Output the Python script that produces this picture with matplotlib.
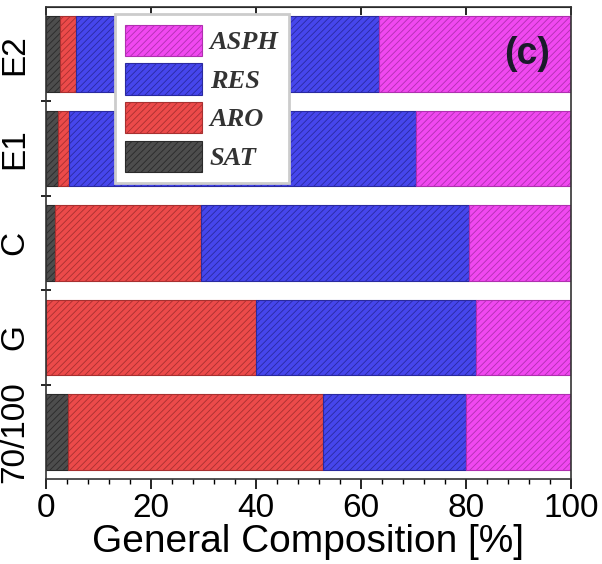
import matplotlib
matplotlib.use("Agg")
import matplotlib.pyplot as plt
import numpy as np
from matplotlib.ticker import MultipleLocator, FixedLocator

# 样品与四组分 (SAT / ARO / RES / ASPH), 单位 %
samples = ['70/100', 'G', 'C', 'E1', 'E2']
sat = [4.2, 0.0, 1.7, 2.3, 2.7]
aro = [48.5, 40.0, 27.9, 2.1, 3.1]
res = [27.3, 41.9, 51.0, 66.1, 57.7]
asph = [20.0, 18.1, 19.4, 29.5, 36.5]

names = ['SAT', 'ARO', 'RES', 'ASPH']
faces = ['#4d4d4d', '#ec4a4a', '#4646ec', '#f048f0']
edges = ['#2a2a2a', '#a83030', '#2a2aa0', '#b030b0']

plt.rcParams['hatch.linewidth'] = 0.6

fig = plt.figure(figsize=(6.02, 5.64), dpi=100)
ax = fig.add_axes([46 / 602, 85 / 564, 525 / 602, 472 / 564])

y = np.arange(len(samples))
left = np.zeros(len(samples))
handles = []
for vals, name, fc, ec in zip([sat, aro, res, asph], names, faces, edges):
    b = ax.barh(y, vals, left=left, height=0.8, color=fc, edgecolor=ec,
                hatch='/////', linewidth=0.8, label=name)
    handles.append(b)
    left = left + np.array(vals)

ax.set_xlim(0, 100)
ax.set_ylim(-0.5, len(samples) - 0.5)

# x 轴刻度
ax.xaxis.set_major_locator(MultipleLocator(20))
ax.xaxis.set_minor_locator(MultipleLocator(4))
ax.tick_params(axis='x', which='major', direction='out', length=7, width=1.2,
               labelsize=24, pad=3)
ax.tick_params(axis='x', which='minor', direction='out', length=3.5, width=1.0)
for lab in ax.get_xticklabels():
    lab.set_fontfamily('Liberation Sans')

top = ax.secondary_xaxis('top')
top.xaxis.set_major_locator(MultipleLocator(20))
top.tick_params(axis='x', which='major', direction='in', length=6, width=1.2,
                labelleft=False, labeltop=False)

# y 轴: 标签在条形中心, 刻度在条形之间
ax.set_yticks(y)
ax.set_yticklabels(samples, rotation=90, va='center', fontsize=24,
                   fontfamily='Liberation Sans')
ax.yaxis.set_minor_locator(FixedLocator(y[:-1] + 0.5))
ax.tick_params(axis='y', which='major', length=0, pad=11)
ax.tick_params(axis='y', which='minor', direction='inout', length=7, width=1.2)

for s in ax.spines.values():
    s.set_linewidth(1.2)
    s.set_color('#333333')

ax.set_xlabel('General Composition [%]', fontsize=28, fontfamily='Liberation Sans',
              labelpad=0)

ax.text(0.917, 0.9, '(c)', transform=ax.transAxes, fontsize=27,
        fontfamily='Liberation Sans', fontweight='bold', ha='center', va='center',
        color='#1a1a2a')

leg = ax.legend(handles[::-1], names[::-1], loc='upper left',
                bbox_to_anchor=(0.131, 0.985), frameon=True, fancybox=False,
                framealpha=1,
                prop={'family': 'Liberation Serif', 'weight': 'bold',
                      'style': 'italic', 'size': 19},
                handlelength=2.9, handleheight=1.45, labelspacing=0.28,
                handletextpad=0.3, borderpad=0.4, borderaxespad=0)
leg.get_frame().set_edgecolor('#cccccc')
leg.get_frame().set_linewidth(2)
for t in leg.get_texts():
    t.set_color('#333333')

fig.savefig('out.png', dpi=100)
